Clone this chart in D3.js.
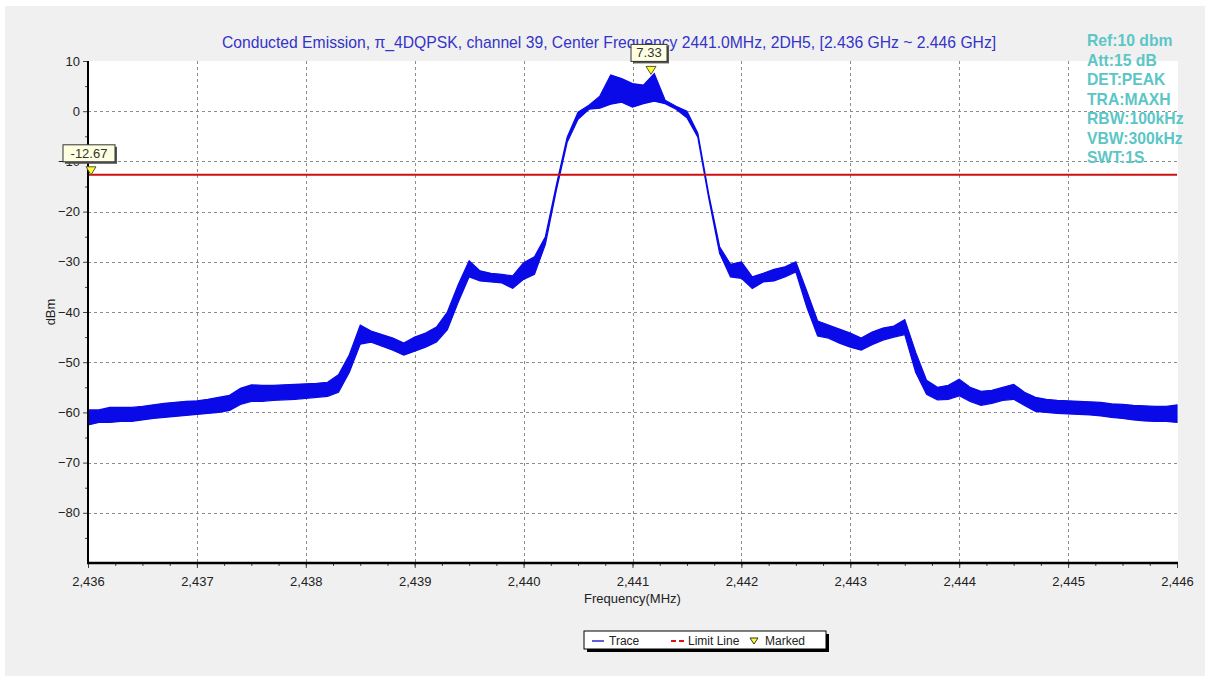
<!DOCTYPE html>
<html>
<head>
<meta charset="utf-8">
<script src="https://cdn.jsdelivr.net/npm/d3@7"></script>
<style>
    body { margin: 0; background: #ffffff; font-family: "Liberation Sans", Arial, sans-serif; }
    svg { display: block; }
    .grid line { stroke: #8c8c8c; stroke-width: 1; stroke-dasharray: 3,3; }
    .tick text { font-size: 13px; fill: #222222; }
    .info { font-size: 15.7px; font-weight: bold; fill: #5cc6c6; }
</style>
</head>
<body>
<div id="chart"></div>
<script>
// trace sampled every 0.1 MHz, lower / upper edge of the noisy band (dBm)
var freqs = [
    2436.0, 2436.1, 2436.2, 2436.3, 2436.4, 2436.5, 2436.6, 2436.7, 2436.8, 2436.9,
    2437.0, 2437.1, 2437.2, 2437.3, 2437.4, 2437.5, 2437.6, 2437.7, 2437.8, 2437.9,
    2438.0, 2438.1, 2438.2, 2438.3, 2438.4, 2438.5, 2438.6, 2438.7, 2438.8, 2438.9,
    2439.0, 2439.1, 2439.2, 2439.3, 2439.4, 2439.5, 2439.6, 2439.7, 2439.8, 2439.9,
    2440.0, 2440.1, 2440.2, 2440.3, 2440.4, 2440.5, 2440.6, 2440.7, 2440.8, 2440.9,
    2441.0, 2441.1, 2441.2, 2441.3, 2441.4, 2441.5, 2441.6, 2441.7, 2441.8, 2441.9,
    2442.0, 2442.1, 2442.2, 2442.3, 2442.4, 2442.5, 2442.6, 2442.7, 2442.8, 2442.9,
    2443.0, 2443.1, 2443.2, 2443.3, 2443.4, 2443.5, 2443.6, 2443.7, 2443.8, 2443.9,
    2444.0, 2444.1, 2444.2, 2444.3, 2444.4, 2444.5, 2444.6, 2444.7, 2444.8, 2444.9,
    2445.0, 2445.1, 2445.2, 2445.3, 2445.4, 2445.5, 2445.6, 2445.7, 2445.8, 2445.9,
    2446.0];
var traceLo = [
    -62.5, -62.0, -62.0, -61.8, -61.8, -61.5, -61.2, -61.0, -60.8, -60.6,
    -60.4, -60.2, -60.0, -59.6, -58.4, -57.8, -57.8, -57.6, -57.5, -57.4,
    -57.2, -57.0, -56.8, -56.0, -52.0, -46.4, -46.0, -46.8, -47.6, -48.6,
    -47.8, -47.0, -46.0, -43.5, -38.0, -33.0, -33.8, -34.0, -34.2, -35.3,
    -33.5, -32.5, -26.5, -15.8, -6.2, -1.6, 0.4, 0.6, 1.4, 1.8,
    0.8, 1.5, 2.0, 1.5, 0.4, -1.3, -5.2, -17.3, -28.3, -33.0,
    -33.3, -35.3, -34.0, -33.8, -33.0, -32.0, -39.0, -44.8, -45.2, -46.2,
    -47.0, -47.6, -46.5, -45.6, -45.0, -44.5, -52.0, -56.4, -57.5, -57.4,
    -56.7, -57.8, -58.6, -58.2, -57.6, -57.4, -58.6, -59.8, -60.0, -60.2,
    -60.3, -60.4, -60.5, -60.7, -61.0, -61.2, -61.5, -61.7, -61.8, -61.8,
    -62.0];
var traceHi = [
    -59.5, -59.5, -59.0, -59.0, -59.0, -58.8, -58.5, -58.2, -58.0, -57.8,
    -57.7, -57.4, -57.0, -56.6, -55.2, -54.5, -54.6, -54.6, -54.5, -54.4,
    -54.3, -54.2, -54.0, -52.5, -48.5, -42.6, -43.8, -44.5, -45.2, -46.2,
    -45.0, -44.2, -43.0, -40.0, -34.5, -29.8, -31.8, -32.3, -32.5, -32.8,
    -30.2, -29.0, -25.0, -14.8, -5.2, -0.2, 1.2, 3.0, 7.2, 6.5,
    5.5, 5.2, 7.5, 2.2, 1.0, 0.0, -4.4, -16.5, -27.0, -30.5,
    -30.0, -33.0, -32.3, -31.5, -31.0, -30.0, -35.8, -41.8, -42.6, -43.4,
    -44.2, -45.2, -44.0, -43.2, -42.8, -41.5, -48.0, -53.6, -55.0, -54.6,
    -53.4, -55.0, -55.8, -55.6, -55.0, -54.4, -56.0, -57.0, -57.4, -57.6,
    -57.7, -57.8, -57.9, -58.0, -58.3, -58.4, -58.6, -58.7, -58.8, -58.8,
    -58.5];

var limitValue = -12.67;
var markerFreqs = [2436.0, 2441.17];
var markerVals = [-12.67, 7.33];
var markerLabels = ["-12.67", "7.33"];

var yTicks = [10, 0, -10, -20, -30, -40, -50, -60, -70, -80];
var xTicks = [2436, 2437, 2438, 2439, 2440, 2441, 2442, 2443, 2444, 2445, 2446];
var infoLines = ["Ref:10 dbm", "Att:15 dB", "DET:PEAK", "TRA:MAXH", "RBW:100kHz", "VBW:300kHz", "SWT:1S"];

var titleText = "Conducted Emission, \u03c0_4DQPSK, channel 39, Center Frequency 2441.0MHz, 2DH5, [2.436 GHz ~ 2.446 GHz]";

var width = 1211, height = 679;
var plotL = 88, plotR = 1177, plotT = 61, plotB = 563;

var svg = d3.select("#chart").append("svg")
    .attr("width", width)
    .attr("height", height);

// gray panel
svg.append("rect")
    .attr("x", 5).attr("y", 6)
    .attr("width", 1200).attr("height", 670)
    .attr("fill", "#f0f0f0");

// plot area
svg.append("rect")
    .attr("x", plotL).attr("y", plotT)
    .attr("width", plotR - plotL + 1).attr("height", plotB - plotT)
    .attr("fill", "#ffffff");

var x = d3.scaleLinear().domain([2436, 2446]).range([plotL, plotR]);
var y = d3.scaleLinear().domain([-90, 10]).range([plotB, plotT]);

// grid
var grid = svg.append("g").attr("class", "grid");
grid.selectAll(".hg").data(yTicks.filter(function(d) { return d < 10; }))
    .enter().append("line")
    .attr("x1", plotL).attr("x2", plotR)
    .attr("y1", function(d) { return Math.round(y(d)) + 0.5; })
    .attr("y2", function(d) { return Math.round(y(d)) + 0.5; });
grid.selectAll(".vg").data(xTicks.slice(1, -1))
    .enter().append("line")
    .attr("y1", plotT).attr("y2", plotB)
    .attr("x1", function(d) { return Math.round(x(d)) + 0.5; })
    .attr("x2", function(d) { return Math.round(x(d)) + 0.5; });

// trace band
var area = d3.area()
    .x(function(d, i) { return x(freqs[i]); })
    .y0(function(d, i) { return y(traceLo[i]); })
    .y1(function(d, i) { return y(traceHi[i]); });
svg.append("path")
    .datum(freqs)
    .attr("d", area)
    .attr("fill", "#0a0ae8")
    .attr("stroke", "#0a0ae8")
    .attr("stroke-width", 1.2);

// limit line
svg.append("line")
    .attr("x1", plotL).attr("x2", plotR)
    .attr("y1", y(limitValue)).attr("y2", y(limitValue))
    .attr("stroke", "#cc1010")
    .attr("stroke-width", 2);

// axes
var yAxis = d3.axisLeft(y).tickValues(yTicks).tickSize(5).tickPadding(3);
var yMinor = d3.axisLeft(y).tickValues(d3.range(-85, 10, 10)).tickSize(3).tickFormat("");
var xAxis = d3.axisBottom(x).tickValues(xTicks).tickSize(5).tickPadding(9).tickFormat(d3.format(","));
var xMinor = d3.axisBottom(x).tickValues(d3.range(2436, 2446.01, 0.25)).tickSize(3).tickFormat("");

svg.append("g").attr("transform", "translate(" + plotL + ",0)").call(yMinor);
svg.append("g").attr("transform", "translate(0," + plotB + ")").call(xMinor);
svg.append("g").attr("transform", "translate(" + plotL + ",0)").call(yAxis);
svg.append("g").attr("transform", "translate(0," + plotB + ")").call(xAxis);
svg.selectAll(".domain").remove();
svg.selectAll(".tick line").attr("stroke", "#444444");

svg.append("line")
    .attr("x1", plotL).attr("x2", plotL)
    .attr("y1", plotT).attr("y2", plotB + 1)
    .attr("stroke", "#000000").attr("stroke-width", 2);
svg.append("line")
    .attr("x1", plotL - 1).attr("x2", plotR + 1)
    .attr("y1", plotB).attr("y2", plotB)
    .attr("stroke", "#000000").attr("stroke-width", 2.5);

// axis titles
svg.append("text")
    .attr("x", x(2441)).attr("y", 603)
    .attr("text-anchor", "middle")
    .style("font-size", "13px").style("fill", "#222222")
    .text("Frequency(MHz)");
svg.append("text")
    .attr("transform", "translate(55,312) rotate(-90)")
    .attr("text-anchor", "middle")
    .style("font-size", "13px").style("fill", "#222222")
    .text("dBm");

// title
svg.append("text")
    .attr("x", 609).attr("y", 48)
    .attr("text-anchor", "middle")
    .style("font-size", "15.7px").style("fill", "#3434c8")
    .text(titleText);

// info block
svg.selectAll(".info").data(infoLines)
    .enter().append("text")
    .attr("class", "info")
    .attr("x", 1087)
    .attr("y", function(d, i) { return 46 + i * 19.5; })
    .text(function(d) { return d; });

// markers
var tri = "M-5,-8 L5,-8 L0,0 Z";
svg.selectAll(".mk").data(markerFreqs)
    .enter().append("path")
    .attr("transform", function(d, i) { return "translate(" + (x(d) + (i == 0 ? 3 : 0)) + "," + y(markerVals[i]) + ")"; })
    .attr("d", tri)
    .attr("fill", "#ffff30")
    .attr("stroke", "#555533")
    .attr("stroke-width", 1);

// marker label boxes
var boxW = [52, 36];
markerFreqs.forEach(function(f, i) {
    var bx = x(f) - boxW[i] / 2 + (i == 0 ? 1 : -2);
    var by = y(markerVals[i]) - 30;
    svg.append("rect")
        .attr("x", bx + 2).attr("y", by + 2)
        .attr("width", boxW[i]).attr("height", 17)
        .attr("fill", "#555555");
    svg.append("rect")
        .attr("x", bx).attr("y", by)
        .attr("width", boxW[i]).attr("height", 17)
        .attr("fill", "#ffffe1")
        .attr("stroke", "#333333").attr("stroke-width", 1);
    svg.append("text")
        .attr("x", bx + boxW[i] / 2).attr("y", by + 13)
        .attr("text-anchor", "middle")
        .style("font-size", "13px").style("fill", "#333333")
        .text(markerLabels[i]);
});

// legend
var lg = svg.append("g").attr("transform", "translate(584,631)");
lg.append("rect").attr("x", 3).attr("y", 3).attr("width", 242).attr("height", 18).attr("fill", "#000000");
lg.append("rect").attr("x", 0).attr("y", 0).attr("width", 242).attr("height", 18)
    .attr("fill", "#ffffff").attr("stroke", "#000000").attr("stroke-width", 1);
lg.append("line").attr("x1", 8).attr("x2", 20).attr("y1", 10).attr("y2", 10)
    .attr("stroke", "#2a2ad0").attr("stroke-width", 1.5);
lg.append("text").attr("x", 25).attr("y", 14).style("font-size", "12px").style("fill", "#222").text("Trace");
lg.append("line").attr("x1", 87).attr("x2", 100).attr("y1", 10).attr("y2", 10)
    .attr("stroke", "#dd1010").attr("stroke-width", 2).attr("stroke-dasharray", "5,3");
lg.append("text").attr("x", 104).attr("y", 14).style("font-size", "12px").style("fill", "#222").text("Limit Line");
lg.append("path").attr("transform", "translate(170,13)").attr("d", "M-4,-6 L4,-6 L0,0 Z")
    .attr("fill", "#ffff30").attr("stroke", "#333").attr("stroke-width", 1);
lg.append("text").attr("x", 181).attr("y", 14).style("font-size", "12px").style("fill", "#222").text("Marked");
</script>
</body>
</html>
